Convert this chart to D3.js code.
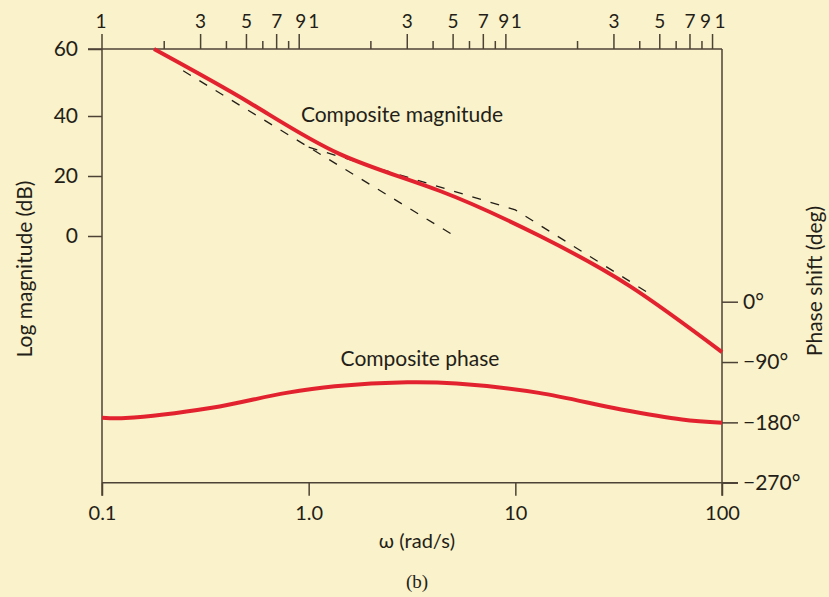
<!DOCTYPE html>
<html>
<head>
<meta charset="utf-8">
<script src="https://cdn.jsdelivr.net/npm/d3@7"></script>
<style>
  html, body { margin: 0; padding: 0; background: #f9f2ca; }
  svg { display: block; }
  text { font-family: Lato, "Open Sans", sans-serif; fill: #241e18; }
</style>
</head>
<body>
<svg id="chart" width="829" height="597"></svg>
<script>
// ---- data ----
const omegaMag = [0.1785, 0.52, 1.417, 4.32, 13.15, 35.8, 100];
const magDb    = [60, 43.9, 27.3, 15.0, 0, -16.7, -38.7];

const omegaPhase = [0.1, 0.13, 0.34, 0.78, 1.34, 3.0, 5.2, 13, 32.5, 64, 100];
const phaseDeg   = [-173, -173.5, -158.3, -136, -126.2, -120.3, -122.2, -136, -160.8, -175.7, -180.6];

// straight-line (asymptotic) approximations, dashed
const asymLowOmega  = [0.247, 5.2];
const asymLowDb     = [53.5, -0.4];
const asymCompOmega = [1.0, 10, 44.3];
const asymCompDb    = [29.6, 8.7, -19.1];

const omegaTicks  = [0.1, 1, 10, 100];
const omegaLabels = ["0.1", "1.0", "10", "100"];
const magTicks    = [0, 20, 40, 60];
const phaseTicks  = [0, -90, -180, -270];
const phaseLabels = ["0°", "\u221290°", "\u2212180°", "\u2212270°"];
const cycleDigits = [2, 3, 4, 5, 6, 7, 8, 9];
const cycleLabeled = ["3", "5", "7", "9"];
const decadeStarts = [0.1, 1, 10];
const decadeEnds = [0.1, 1, 10, 100];

// ---- scales ----
const svg = d3.select("#chart");
const x = d3.scaleLog().domain([0.1, 100]).range([102, 722]);
const yMag = d3.scaleLinear().domain([0, 20, 40, 60]).range([236, 176, 116, 49]);
const yPh = d3.scaleLinear().domain([0, -270]).range([301.7, 482.7]);

const axisColor = "#4d4236";
const red = "#e3222f";

const L = x(0.1), R = x(100), T = yMag(60), B = yPh(-270);

const g = svg.append("g");

// frame lines
g.append("line").attr("x1", L).attr("x2", L).attr("y1", T - 15).attr("y2", B + 13)
  .attr("stroke", axisColor).attr("stroke-width", 1.5);
g.append("line").attr("x1", R).attr("x2", R).attr("y1", T).attr("y2", B + 13)
  .attr("stroke", axisColor).attr("stroke-width", 1.5);
g.append("line").attr("x1", L - 14).attr("x2", R).attr("y1", T).attr("y2", T)
  .attr("stroke", axisColor).attr("stroke-width", 1.5);
g.append("line").attr("x1", L).attr("x2", R + 16).attr("y1", B).attr("y2", B)
  .attr("stroke", axisColor).attr("stroke-width", 1.5);

// bottom axis
const bottomAxis = d3.axisBottom(x).tickValues(omegaTicks)
  .tickFormat((d, i) => omegaLabels[i]).tickSize(13).tickSizeOuter(0).tickPadding(10);
const gb = svg.append("g").attr("transform", `translate(0,${B})`).call(bottomAxis);
gb.select(".domain").remove();
gb.selectAll("line").attr("stroke", axisColor).attr("stroke-width", 1.5);
gb.selectAll("text").style("font-size", "20px").attr("fill", "#241e18");

// left magnitude axis
const leftAxis = d3.axisLeft(yMag).tickValues(magTicks).tickFormat(d3.format("d"))
  .tickSize(14).tickSizeOuter(0).tickPadding(10);
const gl = svg.append("g").attr("transform", `translate(${L},0)`).call(leftAxis);
gl.select(".domain").remove();
gl.selectAll("line").attr("stroke", axisColor).attr("stroke-width", 1.5);
gl.selectAll("text").style("font-size", "21px").attr("fill", "#241e18");

// right phase axis
const rightAxis = d3.axisRight(yPh).tickValues(phaseTicks)
  .tickFormat((d, i) => phaseLabels[i]).tickSize(16).tickSizeOuter(0).tickPadding(5);
const gr = svg.append("g").attr("transform", `translate(${R},0)`).call(rightAxis);
gr.select(".domain").remove();
gr.selectAll("line").attr("stroke", axisColor).attr("stroke-width", 1.5);
gr.selectAll("text").style("font-size", "21px").attr("fill", "#241e18");

// top log-cycle axis
const topTicks = [];
decadeStarts.forEach(d => cycleDigits.forEach(k => topTicks.push({v: d * k, k})));
const gt = svg.append("g");
gt.selectAll("line.tt").data(topTicks).join("line")
  .attr("x1", d => x(d.v)).attr("x2", d => x(d.v))
  .attr("y1", T).attr("y2", d => T - (d.k % 2 === 1 ? 15 : 8))
  .attr("stroke", axisColor).attr("stroke-width", 1.5);
const topLabels = [];
decadeStarts.forEach((d, di) => cycleLabeled.forEach(s => {
  let dx = 0;
  if (s === "9") dx = [1.5, -2, -7][di];
  topLabels.push({v: d * (+s), s, dx});
}));
decadeEnds.forEach((d, di) => topLabels.push({v: d, s: "1", dx: [-1, 5, 1, -2][di]}));
gt.selectAll("text.tl").data(topLabels).join("text")
  .attr("x", d => x(d.v) + d.dx)
  .attr("y", 28).attr("text-anchor", "middle")
  .style("font-size", "19px").text(d => d.s);

// axis titles
svg.append("text").attr("transform", "translate(32,269) rotate(-90)")
  .attr("text-anchor", "middle").style("font-size", "21px").text("Log magnitude (dB)");
svg.append("text").attr("transform", "translate(822,281) rotate(-90)")
  .attr("text-anchor", "middle").style("font-size", "21px").text("Phase shift (deg)");
svg.append("text").attr("x", 417).attr("y", 548).attr("text-anchor", "middle")
  .style("font-size", "20px").text("\u03C9 (rad/s)");
svg.append("text").attr("x", 417).attr("y", 588).attr("text-anchor", "middle")
  .style("font-size", "19px").style("font-family", "'Liberation Serif', serif").text("(b)");

// dashed asymptotes
const dashLine = (ws, vs) => d3.line().x((d, i) => x(ws[i])).y((d, i) => yMag(vs[i]))(ws);
[[asymLowOmega, asymLowDb], [asymCompOmega, asymCompDb]].forEach(([ws, vs]) => {
  svg.append("path").attr("d", dashLine(ws, vs)).attr("fill", "none")
    .attr("stroke", "#241e18").attr("stroke-width", 1.3).attr("stroke-dasharray", "9,10");
});

// magnitude curve
const magLine = d3.line().x((d, i) => x(omegaMag[i])).y((d, i) => yMag(magDb[i]))
  .curve(d3.curveNatural);
svg.append("path").attr("d", magLine(omegaMag)).attr("fill", "none")
  .attr("stroke", red).attr("stroke-width", 4).attr("stroke-linecap", "butt");

// phase curve
const phLine = d3.line().x((d, i) => x(omegaPhase[i])).y((d, i) => yPh(phaseDeg[i]))
  .curve(d3.curveCatmullRom.alpha(0.5));
svg.append("path").attr("d", phLine(omegaPhase)).attr("fill", "none")
  .attr("stroke", red).attr("stroke-width", 4);

// curve labels
svg.append("text").attr("x", 402).attr("y", 122).attr("text-anchor", "middle")
  .style("font-size", "21px").text("Composite magnitude");
svg.append("text").attr("x", 420).attr("y", 366).attr("text-anchor", "middle")
  .style("font-size", "21px").text("Composite phase");
</script>
</body>
</html>
